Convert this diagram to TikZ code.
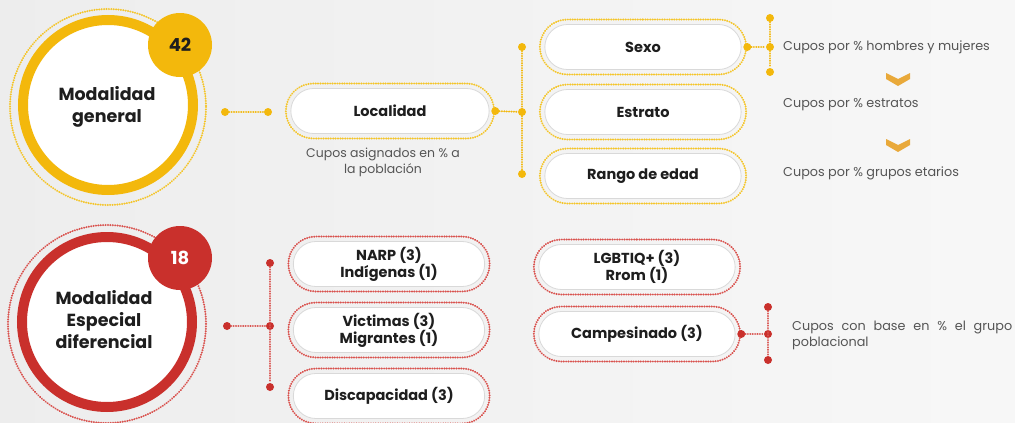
\documentclass[tikz,border=0pt]{standalone}
\usepackage{fontspec}
\setmainfont{Poppins}
\usetikzlibrary{shapes.misc}
\definecolor{gold}{HTML}{F3B80C}
\definecolor{goldl}{HTML}{F4C52A}
\definecolor{redd}{HTML}{C9302C}
\definecolor{redl}{HTML}{D9534F}
\definecolor{chev}{HTML}{E9A93A}
\definecolor{txt}{HTML}{1E1E1E}
\definecolor{gtxt}{HTML}{555555}
\tikzset{
  dotl/.style={line width=2.2pt, dash pattern=on 0.01pt off 2.4pt, line cap=round},
  pillin/.style={rounded rectangle, draw=black!15, fill=white, line width=0.8pt, minimum width=#1-10, minimum height=45},
  pillout/.style={rounded rectangle, dotl, minimum width=#1, minimum height=55, font=\bfseries\fontsize{14.5}{17}\selectfont, align=center, text=txt},
  dotn/.style={circle, fill, inner sep=0pt, minimum size=8},
  note/.style={font=\fontsize{12.8}{16}\selectfont, text=gtxt, align=left, anchor=west, inner sep=0pt},
  chevron/.style={fill=chev},
  ctitle/.style={font=\bfseries\fontsize{17.5}{22}\selectfont, text=txt, align=center},
  badge/.style={circle, minimum size=64, inner sep=0pt, font=\bfseries\fontsize{18}{20}\selectfont}
}
\begin{document}
\begin{tikzpicture}[x=1pt,y=-1pt]
\useasboundingbox (0,0) rectangle (1015,423);
\shade[left color=black!7, right color=black!3] (0,0) rectangle (1015,423);

% ---------- top: Modalidad general ----------
\draw[goldl, dotl] (108,107) circle (98);
\fill[white] (108,105) circle (85);
\draw[gold, line width=10pt] (108,105) circle (85);
\node[badge, fill=gold, text=txt] (b42) at (180,45) {42};
\node[ctitle] (mg) at (107,107) {Modalidad\\general};

\node[dotn, gold] (d1) at (225,112) {};
\node[dotn, gold] (d2) at (268,112) {};
\draw[gold, dotl] (d1) -- (d2);

\node[pillin=215] at (390,111) {};
\node[pillout=215, draw=goldl] (loc) at (390,111) {Localidad};
\node[font=\fontsize{12.5}{16}\selectfont, text=gtxt, align=center] (locn) at (383,162) {Cupos asignados en \% a\\la población};

\node[dotn, gold] (d3) at (loc.east) {};
\node[dotn, gold] (j1) at (522,112) {};
\node[dotn, gold] (j1t) at (522,47) {};
\node[dotn, gold] (j1b) at (522,174) {};
\draw[gold, dotl] (d3) -- (j1);
\draw[gold, dotl] (j1t) -- (j1b);

\node[pillin=213] at (643,47) {};
\node[pillout=213, draw=goldl] (sexo) at (643,47) {Sexo};
\node[pillin=213] at (643,112) {};
\node[pillout=213, draw=goldl] (estr) at (643,112) {Estrato};
\node[pillin=213] at (643,176) {};
\node[pillout=213, draw=goldl] (rango) at (643,176) {Rango de edad};

\node[dotn, gold] (d4) at (sexo.east) {};
\node[dotn, gold] (j2) at (770,47) {};
\node[dotn, gold] (j2t) at (770,18) {};
\node[dotn, gold] (j2b) at (770,72) {};
\draw[gold, dotl] (d4) -- (j2);
\draw[gold, dotl] (j2t) -- (j2b);

\node[note] (n1) at (783,47) {Cupos por \% hombres y mujeres};
\node[note] (n2) at (783,105) {Cupos por \% estratos};
\node[note] (n3) at (783,173) {Cupos por \% grupos etarios};
\fill[chevron] (886,73) -- (898,79) -- (910,73) -- (910,79) -- (898,86) -- (886,79) -- cycle;
\fill[chevron] (886,139) -- (898,145) -- (910,139) -- (910,145) -- (898,152) -- (886,145) -- cycle;

% ---------- bottom: Modalidad Especial diferencial ----------
\draw[redl, dotl] (107,324) circle (99);
\fill[white] (107,322) circle (85);
\draw[redd, line width=10pt] (107,322) circle (85);
\node[badge, fill=redd, text=white] (b18) at (180,258) {18};
\node[ctitle] (me) at (104,320) {Modalidad\\Especial\\diferencial};

\node[dotn, redd] (e1) at (227,326) {};
\node[dotn, redd] (e2) at (270,326) {};
\node[dotn, redd] (e2t) at (270,263) {};
\node[dotn, redd] (e2b) at (270,387) {};
\draw[redl, dotl] (e1) -- (e2);
\draw[redl, dotl] (e2t) -- (e2b);

\node[pillin=208] at (389,264) {};
\node[pillout=208, draw=redl] (narp) at (389,264) {NARP (3)\\Indígenas (1)};
\node[pillin=208] at (389,330) {};
\node[pillout=208, draw=redl] (vict) at (389,330) {Victimas (3)\\Migrantes (1)};
\node[pillin=208] at (389,396) {};
\node[pillout=208, draw=redl] (disc) at (389,396) {Discapacidad (3)};

\node[pillin=213] at (637,267) {};
\node[pillout=213, draw=redl] (lgbt) at (637,267) {LGBTIQ+ (3)\\Rrom (1)};
\node[pillin=213] at (637,334) {};
\node[pillout=213, draw=redl] (camp) at (637,334) {Campesinado (3)};

\node[dotn, redd] (e3) at (camp.east) {};
\node[dotn, redd] (e4) at (768,334) {};
\node[dotn, redd] (e4t) at (768,307) {};
\node[dotn, redd] (e4b) at (768,360) {};
\draw[redl, dotl] (e3) -- (e4);
\draw[redl, dotl] (e4t) -- (e4b);

\node[note, align=justify, text width=220] (n4) at (792,335) {Cupos con base en \% el grupo poblacional};
\end{tikzpicture}
\end{document}
